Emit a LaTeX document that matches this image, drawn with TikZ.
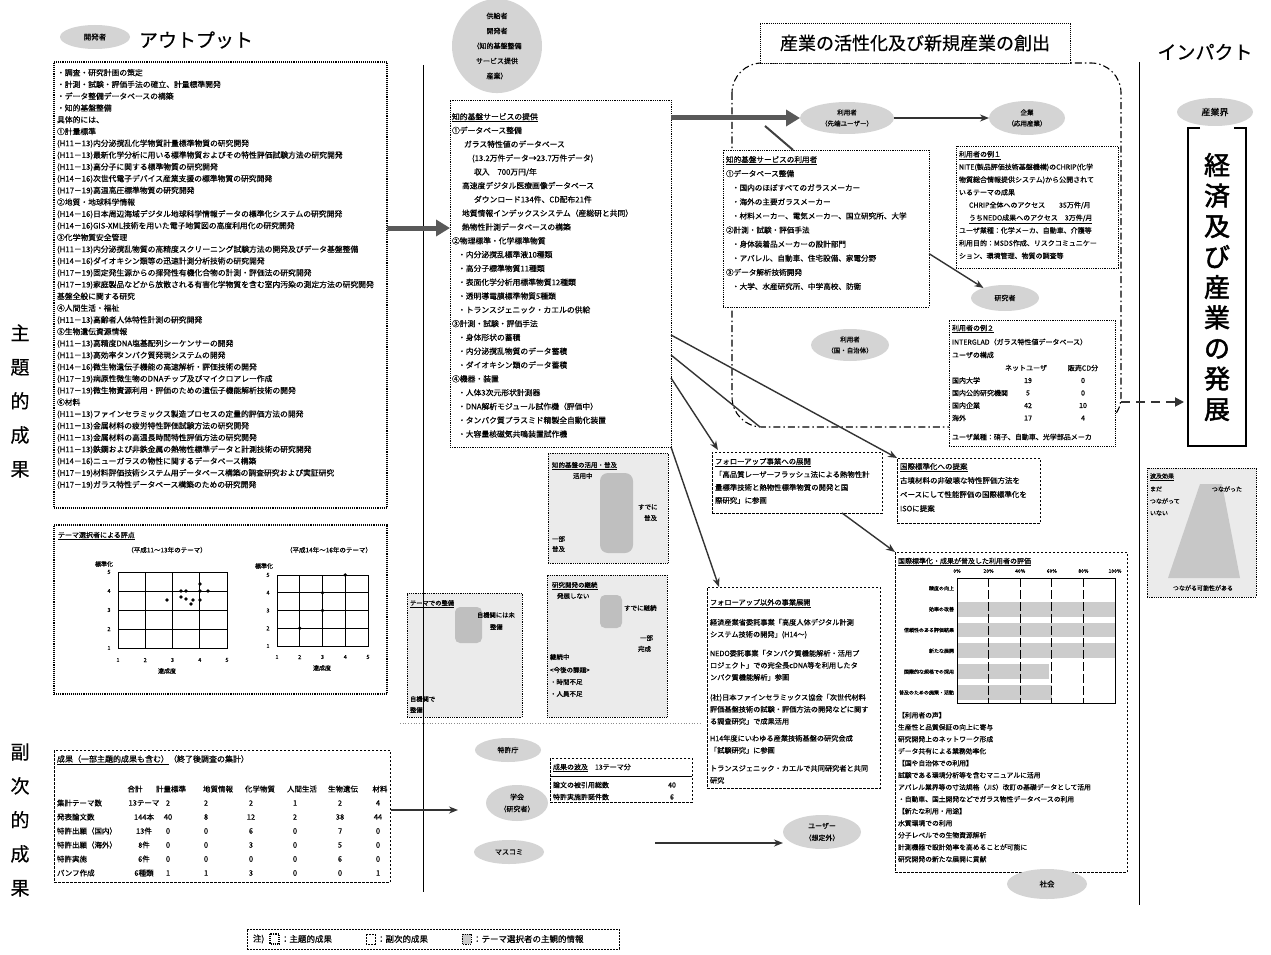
\documentclass[tikz,border=0pt]{standalone}
\usepackage{fontspec}
\setmainfont{Noto Sans CJK JP}[FakeBold=0.4,AutoFakeBold=2]
\usetikzlibrary{arrows.meta,calc,shapes.geometric}
\newcommand\myfs[1]{\fontsize{#1}{#1}\selectfont}
\newcommand\myfl[2]{\fontsize{#1}{#2}\selectfont}
\begin{document}
\begin{tikzpicture}[x=1pt,y=-1pt,
  every node/.style={inner sep=0pt,outer sep=0pt},
  mainbox/.style={draw,line width=1.1pt,densely dotted,fill=white},
  dotbox/.style={draw,line width=0.8pt,densely dotted,fill=white},
  dashbox/.style={draw,line width=0.8pt,dash pattern=on 2.5pt off 1.5pt,fill=white},
  graybox/.style={draw,line width=0.8pt,densely dotted,fill=black!8},
  boxat/.style={anchor=north west},
  blob/.style={ellipse,fill=black!17,align=center},
  txt/.style={anchor=north west,align=left},
  lbl/.style={anchor=west},
  bigarrow/.style={line width=5pt,black!65,-{Triangle[length=14pt,width=16pt]}},
  arr/.style={line width=1.4pt,black!80,-{Stealth[length=9pt,width=7pt]}},
  thinline/.style={line width=0.7pt},
  regionline/.style={line width=1.1pt,dash pattern=on 7pt off 3pt on 1.5pt off 3pt},
]
\useasboundingbox[fill=white] (0,0) rectangle (1271,955);

% ---------------- left column ----------------
\node[blob,minimum width=70pt,minimum height=24pt,font=\myfs{7.5}] (dev) at (95,37) {開発者};
\node[font=\myfs{19}] (outttl) at (196,40) {アウトプット};

\node[mainbox,boxat,minimum width=333pt,minimum height=446pt] (out) at (54,62) {};
\node[txt,font=\myfl{7.8}{11.77}] (outtxt) at (57,69) {%
・調査・研究計画の策定\\
・計測・試験・評価手法の確立、計量標準開発\\
・データ整備データベースの構築\\
・知的基盤整備\\
具体的には、\\
①計量標準\\
(H11－13)内分泌撹乱化学物質計量標準物質の研究開発\\
(H11－13)最新化学分析に用いる標準物質およびその特性評価試験方法の研究開発\\
(H11－13)高分子に関する標準物質の研究開発\\
(H14－16)次世代電子デバイス産業支援の標準物質の研究開発\\
(H17－19)高温高圧標準物質の研究開発\\
②地質・地球科学情報\\
(H14－16)日本周辺海域デジタル地球科学情報データの標準化システムの研究開発\\
(H14－16)GIS-XML技術を用いた電子地質図の高度利用化の研究開発\\
③化学物質安全管理\\
(H11－13)内分泌撹乱物質の高精度スクリーニング試験方法の開発及びデータ基盤整備\\
(H14－16)ダイオキシン類等の迅速計測分析技術の研究開発\\
(H17－19)固定発生源からの揮発性有機化合物の計測・評価法の研究開発\\
(H17－19)家庭製品などから放散される有害化学物質を含む室内汚染の測定方法の研究開発\\
基盤全般に関する研究\\
④人間生活・福祉\\
(H11－13)高齢者人体特性計測の研究開発\\
⑤生物遺伝資源情報\\
(H11－13)高精度DNA塩基配列シーケンサーの開発\\
(H11－13)高効率タンパク質発現システムの開発\\
(H14－16)微生物遺伝子機能の高速解析・評価技術の開発\\
(H17－19)病原性微生物のDNAチップ及びマイクロアレー作成\\
(H17－19)微生物資源利用・評価のための遺伝子機能解析技術の開発\\
⑥材料\\
(H11－13)ファインセラミックス製造プロセスの定量的評価方法の開発\\
(H11－13)金属材料の疲労特性評価試験方法の研究開発\\
(H11－13)金属材料の高温長時間特性評価方法の研究開発\\
(H11－13)鉄鋼および非鉄金属の熱物性標準データと計測技術の研究開発\\
(H14－16)ニューガラスの物性に関するデータベース構築\\
(H17－19)材料評価技術システム用データベース構築の調査研究および実証研究\\
(H17－19)ガラス特性データベース構築のための研究開発};

% chart box
\node[mainbox,boxat,minimum width=333pt,minimum height=169pt] (chart) at (54,525) {};
\node[lbl,font=\myfs{7}] (charttitle) at (58,536) {\underline{テーマ選択者による評点}};
\node[font=\myfs{6.5}] (sub1) at (167,550) {（平成11～13年のテーマ）};
\node[font=\myfs{6.5}] (sub2) at (329,550) {（平成14年～16年のテーマ）};
\draw[thinline] (118,572) rectangle (227,648);
\foreach \i in {1,2,3} {
  \draw[thinline] ({118+27.25*\i},572) -- ({118+27.25*\i},648);
  \draw[thinline] (118,{572+19*\i}) -- (227,{572+19*\i});
}
\foreach \i in {1,...,5} {
  \node[font=\myfs{5.5}] at ({118+27.25*(\i-1)},660) {\i};
  \node[font=\myfs{5.5}] at (109,{648-19*(\i-1)}) {\i};
}
\node[font=\myfs{6}] (ylab1) at (104,564) {標準化};
\node[font=\myfs{6}] (xlab1) at (167,671) {達成度};
\foreach \p in {(167,600),(181,591),(186,591),(200,584),(200,591),(208,591),(181,597),(186,599),(193,600),(191,604),(200,600)}
  \fill \p circle[radius=1.8pt];
\draw[thinline] (277,575) rectangle (368,646);
\foreach \i in {1,2,3} {
  \draw[thinline] ({277+22.75*\i},575) -- ({277+22.75*\i},646);
  \draw[thinline] (277,{575+17.75*\i}) -- (368,{575+17.75*\i});
}
\foreach \i in {1,...,5} {
  \node[font=\myfs{5.5}] at ({277+22.75*(\i-1)},657) {\i};
  \node[font=\myfs{5.5}] at (268,{646-17.75*(\i-1)}) {\i};
}
\node[font=\myfs{6}] (ylab2) at (264,566) {標準化};
\node[font=\myfs{6}] (xlab2) at (322,668) {達成度};
\foreach \p in {(345.25,575),(322.5,592.75),(322.5,610.5),(299.75,628.25)}
  \fill \p circle[radius=1.8pt];

% results table
\node[dashbox,boxat,minimum width=336pt,minimum height=132pt] (tab) at (54,750) {};
\node[lbl,font=\myfs{8}] (tabttl) at (57,760) {\underline{成果（一部主題的成果も含む）}（終了後調査の集計）};
\foreach \h/\x in {合計/135,計量標準/171,地質情報/218,化学物質/260,人間生活/302,生物遺伝/343,材料/380}
  \node[font=\myfs{7.5}] at (\x,789) {\h};
\foreach \lab/\tot/\va/\vb/\vc/\vd/\ve/\vf [count=\i] in {集計テーマ数/13テーマ/2/2/2/1/2/4,発表論文数/144本/40/8/12/2/38/44,特許出願（国内）/13件/0/0/6/0/7/0,特許出願（海外）/8件/0/0/3/0/5/0,特許実施/6件/0/0/0/0/6/0,パンフ作成/6種類/1/1/3/0/0/1} {
  \node[lbl,font=\myfs{7.5}] at (57,{789+14*\i}) {\lab};
  \node[font=\myfs{7.5}] at (144,{789+14*\i}) {\tot};
  \node[font=\myfs{7.5}] at (168,{789+14*\i}) {\va};
  \node[font=\myfs{7.5}] at (206,{789+14*\i}) {\vb};
  \node[font=\myfs{7.5}] at (251,{789+14*\i}) {\vc};
  \node[font=\myfs{7.5}] at (295,{789+14*\i}) {\vd};
  \node[font=\myfs{7.5}] at (340,{789+14*\i}) {\ve};
  \node[font=\myfs{7.5}] at (378,{789+14*\i}) {\vf};
}

% left vertical labels
\node[font=\myfl{19}{34},align=center] (lab1) at (20,401) {主\\題\\的\\成\\果};
\node[font=\myfl{19}{34},align=center] (lab2) at (20,820) {副\\次\\的\\成\\果};

% ---------------- middle column ----------------
\node[blob,minimum width=90pt,minimum height=94pt,font=\myfl{7}{15}] (sup) at (497,46) {供給者\\開発者\\（知的基盤整備\\サービス提供\\産業）};
\node[dotbox,boxat,minimum width=221pt,minimum height=347pt] (mid) at (450,100) {};
\node[txt,font=\myfl{7.8}{13.8}] (midtxt) at (452,113) {%
\underline{知的基盤サービスの提供}\\
①データベース整備\\
\hspace*{12pt}ガラス特性値のデータベース\\
\hspace*{20pt}(13.2万件データ→23.7万件データ)\\
\hspace*{22pt}収入　700万円/年\\
\hspace*{10pt}高速度デジタル医療画像データベース\\
\hspace*{22pt}ダウンロード134件、CD配布21件\\
\hspace*{10pt}地質情報インデックスシステム（産総研と共同）\\
\hspace*{10pt}熱物性計測データベースの構築\\
②物理標準・化学標準物質\\
\hspace*{6pt}・内分泌撹乱標準液10種類\\
\hspace*{6pt}・高分子標準物質11種類\\
\hspace*{6pt}・表面化学分析用標準物質12種類\\
\hspace*{6pt}・透明導電膜標準物質5種類\\
\hspace*{6pt}・トランスジェニック・カエルの供給\\
③計測・試験・評価手法\\
\hspace*{6pt}・身体形状の蓄積\\
\hspace*{6pt}・内分泌撹乱物質のデータ蓄積\\
\hspace*{6pt}・ダイオキシン類のデータ蓄積\\
④機器・装置\\
\hspace*{6pt}・人体3次元形状計測器\\
\hspace*{6pt}・DNA解析モジュール試作機（評価中）\\
\hspace*{6pt}・タンパク質プラスミド精製全自動化装置\\
\hspace*{6pt}・大容量核磁気共鳴装置試作機};

% gray boxes
\node[graybox,boxat,minimum width=115pt,minimum height=124pt] (boxc) at (407,593) {};
\fill[black!25,rounded corners=5pt] (455,607) rectangle (482,643);
\node[lbl,font=\myfs{6.3}] (boxct) at (410,604) {\underline{テーマでの整備}};
\node[lbl,font=\myfs{6.3}] at (477,615) {自機関には未};
\node[lbl,font=\myfs{6.3}] at (490,627) {整備};
\node[lbl,font=\myfs{6.3}] at (410,699) {自機関で};
\node[lbl,font=\myfs{6.3}] at (410,710) {整備};

\node[graybox,boxat,minimum width=120pt,minimum height=110pt] (boxa) at (548,453) {};
\fill[black!25,rounded corners=8pt] (600,473) rectangle (633,553);
\node[lbl,font=\myfs{6.5}] (boxat1) at (552,466) {\underline{知的基盤の活用・普及}};
\node[lbl,font=\myfs{6.5}] at (573,476) {活用中};
\node[lbl,font=\myfs{6.5}] at (638,507) {すでに};
\node[lbl,font=\myfs{6.5}] at (644,518) {普及};
\node[lbl,font=\myfs{6.5}] at (552,539) {一部};
\node[lbl,font=\myfs{6.5}] at (552,549) {普及};

\node[graybox,boxat,minimum width=120pt,minimum height=142pt] (boxb) at (547,575) {};
\fill[black!25,rounded corners=5pt] (600,595) rectangle (622,628);
\node[lbl,font=\myfs{6.5}] (boxbt) at (552,586) {\underline{研究開発の継続}};
\node[lbl,font=\myfs{6.5}] at (557,596) {発展しない};
\node[lbl,font=\myfs{6.5}] at (624,608) {すでに継続};
\node[lbl,font=\myfs{6.5}] at (640,638) {一部};
\node[lbl,font=\myfs{6.5}] at (638,649) {完成};
\node[lbl,font=\myfs{6.5}] at (550,657) {継続中};
\node[lbl,font=\myfs{6.5}] at (550,670) {<今後の課題>};
\node[lbl,font=\myfs{6.5}] at (550,682) {・時間不足};
\node[lbl,font=\myfs{6.5}] at (550,694) {・人員不足};

% secondary ellipses
\node[blob,minimum width=66pt,minimum height=24pt,font=\myfs{7}] (pat) at (508,750) {特許庁};
\node[blob,minimum width=62pt,minimum height=36pt,font=\myfl{7}{12}] (aca) at (517,803) {学会\\（研究者）};
\node[blob,minimum width=70pt,minimum height=24pt,font=\myfs{7}] (med) at (509,852) {マスコミ};

\node[dashbox,boxat,minimum width=142pt,minimum height=44pt] (wave1) at (550,758) {};
\node[lbl,font=\myfs{7}] (w1t) at (553,768) {\underline{成果の波及}　13テーマ分};
\draw[thinline] (550,776) -- (692,776);
\node[lbl,font=\myfs{7}] at (553,785) {論文の被引用総数};
\node[font=\myfs{7}] at (672,785) {40};
\node[lbl,font=\myfs{7}] at (553,797) {特許実施許諾件数};
\node[font=\myfs{7}] at (672,797) {6};

% follow-up boxes
\node[dashbox,boxat,minimum width=170pt,minimum height=61pt] (fu1) at (712,452) {};
\node[txt,font=\myfl{7.4}{13}] (fu1t) at (715,458) {%
\underline{フォローアップ事業への展開}\\
「高品質レーザーフラッシュ法による熱物性計\\
量標準技術と熱物性標準物質の開発と国\\
際研究」に参画};

\node[dashbox,boxat,minimum width=173pt,minimum height=201pt] (fu2) at (707,587) {};
\node[txt,font=\myfl{7.2}{12}] (fu2t) at (710,599) {%
\underline{フォローアップ以外の事業展開}\\[8pt]
経済産業省委託事業「高度人体デジタル計測\\
システム技術の開発」(H14～)\\[7pt]
NEDO委託事業「タンパク質機能解析・活用プ\\
ロジェクト」での完全長cDNA等を利用したタ\\
ンパク質機能解析」参画\\[8pt]
(社)日本ファインセラミックス協会「次世代材料\\
評価基盤技術の試験・評価方法の開発などに関す\\
る調査研究」で成果活用\\[5pt]
H14年度にいわゆる産業技術基盤の研究会成\\
「試験研究」に参画\\[6pt]
トランスジェニック・カエルで共同研究者と共同\\
研究};

\node[blob,minimum width=78pt,minimum height=34pt,font=\myfl{7}{12}] (uu) at (822,832) {ユーザー\\（想定外）};

% ---------------- right region ----------------
\draw[regionline,rounded corners=30pt] (732,63) rectangle (1121,427);
\node[draw,densely dotted,line width=0.9pt,fill=white,boxat,minimum width=310pt,minimum height=40pt,font=\myfs{18}] (ttl) at (760,23) {産業の活性化及び新規産業の創出};

\node[blob,minimum width=94pt,minimum height=32pt,font=\myfl{6.5}{11}] (u1) at (847,118) {利用者\\（先端ユーザー）};
\node[blob,minimum width=76pt,minimum height=34pt,font=\myfl{6.5}{11}] (corp) at (1027,118) {企業\\（応用産業）};

\node[dotbox,boxat,minimum width=206pt,minimum height=157pt] (ub) at (723,150) {};
\node[txt,font=\myfl{7.6}{14.1}] (ubt) at (726,156) {%
\underline{知的基盤サービスの利用者}\\
①データベース整備\\
\hspace*{6pt}・国内のほぼすべてのガラスメーカー\\
\hspace*{6pt}・海外の主要ガラスメーカー\\
\hspace*{6pt}・材料メーカー、電気メーカー、国立研究所、大学\\
②計測・試験・評価手法\\
\hspace*{6pt}・身体装着品メーカーの設計部門\\
\hspace*{6pt}・アパレル、自動車、住宅設備、家電分野\\
③データ解析技術開発\\
\hspace*{6pt}・大学、水産研究所、中学高校、防衛};

\node[dotbox,boxat,minimum width=162pt,minimum height=122pt] (ex1) at (956,146) {};
\node[txt,font=\myfl{7}{12.7}] (ex1t) at (959,151) {%
\underline{利用者の例１}\\
NITE(製品評価技術基盤機構)のCHRIP(化学\\
物質総合情報提供システム)から公開されて\\
いるテーマの成果\\
\hspace*{10pt}CHRIP全体へのアクセス\hspace*{14pt}35万件/月\\
\hspace*{10pt}\underline{うちNEDO成果へのアクセス　3万件/月}\\
ユーザ業種：化学メーカ、自動車、介護等\\
利用目的：MSDS作成、リスクコミュニケー\\
ション、環境管理、物質の調査等};

\node[blob,minimum width=68pt,minimum height=26pt,font=\myfs{7}] (res) at (1005,298) {研究者};
\node[blob,minimum width=78pt,minimum height=32pt,font=\myfl{6.5}{11}] (gov) at (850,345) {利用者\\（国・自治体）};

\node[dotbox,boxat,minimum width=166pt,minimum height=126pt] (ex2) at (949,320) {};
\node[lbl,font=\myfs{7}] (ex2t) at (952,329) {\underline{利用者の例２}};
\node[lbl,font=\myfs{7}] at (952,342) {INTERGLAD（ガラス特性値データベース）};
\node[lbl,font=\myfs{7}] at (952,355) {ユーザの構成};
\node[font=\myfs{7}] at (1026,368) {ネットユーザ};
\node[font=\myfs{7}] at (1083,368) {販売CD分};
\foreach \lab/\na/\nb [count=\i] in {国内大学/19/0,国内公的研究機関/5/0,国内企業/42/10,海外/17/4} {
  \node[lbl,font=\myfs{7}] at (952,{368+12.5*\i}) {\lab};
  \node[font=\myfs{7}] at (1028,{368+12.5*\i}) {\na};
  \node[font=\myfs{7}] at (1083,{368+12.5*\i}) {\nb};
}
\node[lbl,font=\myfs{7}] at (952,437) {ユーザ業種：硝子、自動車、光学部品メーカ};

\node[dashbox,boxat,minimum width=143pt,minimum height=65pt] (intl) at (897,458) {};
\node[txt,font=\myfl{7.5}{14}] (intlt) at (900,463) {%
\underline{国際標準化への提案}\\
古墳材料の非破壊な特性評価方法を\\
ベースにして性能評価の国際標準化を\\
ISOに提案};

\node[dashbox,boxat,minimum width=232pt,minimum height=320pt] (big) at (895,552) {};
\node[lbl,font=\myfs{7}] (bigt) at (898,562) {\underline{国際標準化・成果が普及した利用者の評価}};
\foreach \r/\w in {2/1,3/1,4/1,5/0.58,6/0.6}
  \fill[black!20] (957,{578+20.83*(\r-1)+3}) rectangle ({957+158*\w},{578+20.83*\r-3});
\draw[line width=0.9pt] (957,578) rectangle (1115,703);
\foreach \k in {1,2,3,4}
  \draw[line width=1.1pt,dash pattern=on 9pt off 3pt] ({957+31.6*\k},578) -- ({957+31.6*\k},703);
\foreach \p [count=\k from 0] in {0\%,20\%,40\%,60\%,80\%,100\%}
  \node[font=\myfs{5}] at ({957+31.6*\k},571) {\p};
\foreach \lab [count=\i] in {精度の向上,効率の改善,信頼性のある評価結果,新たな展開,国際的な規格での採用,普及のための施策・活動}
  \node[anchor=east,font=\myfs{5}] at (954,{578+20.83*(\i-0.5)}) {\lab};
\node[txt,font=\myfl{6.8}{12}] (bigtxt) at (898,712) {%
【利用者の声】\\
生産性と品質保証の向上に寄与\\
研究開発上のネットワーク形成\\
データ共有による業務効率化\\
【国や自治体での利用】\\
試験である環境分析等を含むマニュアルに活用\\
アパレル業界等の寸法規格（JIS）改訂の基礎データとして活用\\
・自動車、国土開発などでガラス物性データベースの利用\\
【新たな利用・用途】\\
水質環境での利用\\
分子レベルでの生物資源解析\\
計測機器で設計効率を高めることが可能に\\
研究開発の新たな展開に貢献};

\node[blob,minimum width=80pt,minimum height=30pt,font=\myfs{7.5}] (soc) at (1047,884) {社会};

% ---------------- impact column ----------------
\node[font=\myfs{19}] (impttl) at (1205,52) {インパクト};
\node[blob,minimum width=76pt,minimum height=28pt,font=\myfs{9}] (ind) at (1215,112) {産業界};
\node[boxat,minimum width=58pt,minimum height=318pt] (econ) at (1188,128) {};
\draw[line width=1.6pt] ($(econ.north west)+(12,0)$) -- (econ.north west) -- (econ.south west) -- (econ.south east) -- (econ.north east) -- ($(econ.north east)+(-12,0)$);
\node[font=\myfl{26}{30.5}\bfseries,align=center] (econt) at (econ.center) {経\\済\\及\\び\\産\\業\\の\\発\\展};

\node[graybox,boxat,minimum width=109pt,minimum height=129pt] (hak) at (1147,468) {};
\fill[black!22] (1200,484) -- (1222,484) -- (1240,578) -- (1168,578) -- cycle;
\node[lbl,font=\myfs{6}] (hakt) at (1150,477) {\underline{波及効果}};
\node[lbl,font=\myfs{6}] at (1150,489) {まだ};
\node[lbl,font=\myfs{6}] at (1150,501) {つながって};
\node[lbl,font=\myfs{6}] at (1150,513) {いない};
\node[lbl,font=\myfs{6}] at (1212,489) {つながった};
\node[font=\myfs{6}] at (1203,588) {つながる可能性がある};

% ---------------- separators ----------------
\draw[line width=0.9pt] (423,65) -- (423,892);
\draw[line width=0.9pt] (1139,62) -- (1139,905);
\draw[black!45,dotted,line width=0.7pt] (400,723) -- (700,723);

% ---------------- connectors ----------------
\coordinate (a1) at (0,228);
\draw[bigarrow] (out.east |- a1) -- (mid.west |- a1);
\draw[bigarrow] (mid.east |- u1) -- (u1.west);
\draw[arr] (u1.east) -- (corp.west);
\coordinate (d1) at (765,126);
\draw[line width=2pt,black!75] (d1) -- ($(ub.north west)!0.34!(ub.north east)$);
\draw[arr] ($(ub.north east)!0.66!(ub.south east)$) -- (res.155);
\coordinate (ma) at (0,335);
\coordinate (mc) at (0,355);
\coordinate (mb) at (0,378);
\coordinate (rc) at (760,427);
\draw[arr] (mid.east |- ma) -- (intl.north west);
\draw[line width=1.4pt,black!80] (mid.east |- mc) -- (rc);
\draw[arr] (mid.east |- mb) -- ($(fu1.north west)+(6,-2)$);
\draw[arr] (mid.south east) -- ($(fu2.north west)+(12,0)$);
\draw[arr] ($(fu1.south east)+(-40,0)$) -- (big.north west);
\coordinate (t1) at (391,810);
\coordinate (t2) at (458,810);
\draw[arr] (t1) -- (t2);
\coordinate (c1) at (655,843);
\draw[arr] (c1) -- (c1 -| uu.west);
\coordinate (rg) at (1121,402);
\draw[line width=1.8pt,black!80,dash pattern=on 9pt off 6pt,-{Triangle[length=9pt,width=9pt]},shorten >=4pt] (rg) -- (rg -| econ.west);

% ---------------- legend ----------------
\node[draw,dash pattern=on 2pt off 1pt,line width=0.7pt,boxat,minimum width=372pt,minimum height=20pt] (leg) at (247,929) {};
\node[lbl,font=\myfs{8.5}] (leg0) at (253,939) {注)};
\draw[line width=1.1pt,densely dotted] (270,934) rectangle (279,944);
\node[lbl,font=\myfs{8.5}] (leg1) at (281,939) {：主題的成果};
\draw[line width=0.8pt,dash pattern=on 2pt off 1pt] (366,934) rectangle (375,944);
\node[lbl,font=\myfs{8.5}] (leg2) at (377,939) {：副次的成果};
\draw[line width=0.8pt,densely dotted,fill=black!20] (462,934) rectangle (471,944);
\node[lbl,font=\myfs{8.5}] (leg3) at (473,939) {：テーマ選択者の主観的情報};
\end{tikzpicture}
\end{document}
